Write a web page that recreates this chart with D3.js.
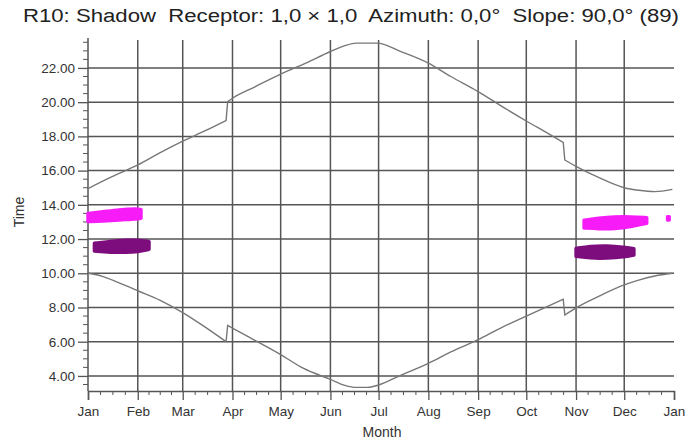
<!DOCTYPE html>
<html>
<head>
<meta charset="utf-8">
<script src="https://cdn.jsdelivr.net/npm/d3@7"></script>
<style>
  body { margin: 0; background: #fff; }
  text { font-family: "Liberation Sans", Arial, sans-serif; }
</style>
</head>
<body>
<script>
(function(){

//chart values
var titleText = "R10: Shadow  Receptor: 1,0 \u00d7 1,0  Azimuth: 0,0\u00b0  Slope: 90,0\u00b0 (89)";
var monthLabels = ["Jan","Feb","Mar","Apr","May","Jun","Jul","Aug","Sep","Oct","Nov","Dec","Jan"];
var yTicks = [4, 6, 8, 10, 12, 14, 16, 18, 20, 22];

//clock changes (the curves jump between these days)
var dstBreaks = ["Mar 29", "Oct 25"];

//sunset (upper curve)
var sunsetDates = ["Jan 1","Jan 15","Feb 1","Feb 15","Mar 1","Mar 15","Mar 28","Mar 29","Apr 1","Apr 15","May 1","May 17","Jun 1","Jun 10","Jun 17","Jun 30","Jul 15","Aug 1","Aug 15","Sep 1","Sep 15","Oct 1","Oct 15","Oct 24","Oct 25","Nov 1","Nov 15","Dec 1","Dec 10","Dec 20","Dec 31"];
var sunsetTimes = [14.95, 15.6, 16.33, 17.05, 17.72, 18.33, 18.93, 20.03, 20.23, 20.9, 21.64, 22.3, 22.96, 23.3, 23.45, 23.45, 22.95, 22.28, 21.5, 20.62, 19.8, 18.9, 18.15, 17.65, 16.62, 16.25, 15.6, 15.0, 14.85, 14.77, 14.9];

//sunrise (lower curve)
var sunriseDates = ["Jan 1","Jan 10","Jan 20","Feb 1","Feb 15","Mar 1","Mar 15","Mar 28","Mar 29","Apr 1","Apr 15","May 1","May 15","Jun 1","Jun 10","Jun 17","Jun 24","Jul 1","Jul 15","Aug 1","Aug 15","Sep 1","Sep 15","Oct 1","Oct 15","Oct 24","Oct 25","Nov 1","Nov 15","Dec 1","Dec 10","Dec 20","Dec 31"];
var sunriseTimes = [10.0, 9.82, 9.45, 8.98, 8.42, 7.7, 6.85, 6.0, 6.95, 6.8, 6.08, 5.25, 4.45, 3.8, 3.45, 3.33, 3.33, 3.47, 4.05, 4.74, 5.4, 6.12, 6.8, 7.5, 8.1, 8.48, 7.56, 7.98, 8.65, 9.32, 9.6, 9.84, 10.0];

//shadow periods, turbine A (magenta)
var shadowADates = ["Jan 1","Jan 10","Jan 20","Feb 1","Feb 3"];
var shadowAStart = [13.02, 13.05, 13.12, 13.17, 13.22];
var shadowAEnd   = [13.5, 13.58, 13.72, 13.77, 13.72];
var shadowA2Dates = ["Nov 6","Nov 15","Nov 25","Dec 5","Dec 15"];
var shadowA2Start = [12.65, 12.6, 12.6, 12.72, 12.92];
var shadowA2End   = [13.1, 13.22, 13.3, 13.3, 13.25];
var shadowA3Dates = ["Dec 28","Dec 29"];
var shadowA3Start = [13.12, 13.12];
var shadowA3End   = [13.3, 13.3];

//shadow periods, turbine B (purple)
var shadowBDates = ["Jan 5","Jan 15","Jan 25","Feb 1","Feb 8"];
var shadowBStart = [11.3, 11.22, 11.22, 11.25, 11.4];
var shadowBEnd   = [11.75, 11.87, 11.93, 11.95, 11.85];
var shadowB2Dates = ["Nov 1","Nov 10","Nov 20","Dec 1","Dec 7"];
var shadowB2Start = [11.0, 10.88, 10.88, 10.95, 11.07];
var shadowB2End   = [11.45, 11.58, 11.62, 11.52, 11.43];

var width = 700,
    height = 443;

var svg = d3.select("body")
    .append("svg")
    .attr("width", width)
    .attr("height", height);

var parse = d3.timeParse("%Y %b %d");
function day(s){ return parse("2011 " + s); }

var x = d3.scaleTime()
    .domain([day("Jan 1"), parse("2012 Jan 1")])
    .range([88, 674]);

var y = d3.scaleLinear()
    .domain([3.12, 23.75])
    .range([391, 38]);

var gridColor = "#555";

//title
svg.append("text")
    .attr("x", 351)
    .attr("y", 22)
    .attr("text-anchor", "middle")
    .attr("font-size", "18px")
    .attr("fill", "#222")
    .attr("textLength", 656)
    .attr("lengthAdjust", "spacingAndGlyphs")
    .style("white-space", "pre")
    .text(titleText);

//horizontal grid
svg.append("g")
    .selectAll("line")
    .data(yTicks)
    .enter()
    .append("line")
    .attr("x1", x.range()[0])
    .attr("x2", x.range()[1])
    .attr("y1", function(d){ return y(d); })
    .attr("y2", function(d){ return y(d); })
    .attr("stroke", gridColor)
    .attr("stroke-width", 1.5);

//vertical grid at month starts (Feb..Dec)
var monthStarts = d3.timeMonth.range(day("Jan 1"), parse("2012 Jan 2"));
svg.append("g")
    .selectAll("line")
    .data(monthStarts.slice(1, 12))
    .enter()
    .append("line")
    .attr("x1", function(d){ return x(d); })
    .attr("x2", function(d){ return x(d); })
    .attr("y1", y.range()[1] + 2)
    .attr("y2", y.range()[0])
    .attr("stroke", gridColor)
    .attr("stroke-width", 1.5);

//x axis with month labels
var xAxis = d3.axisBottom(x)
    .tickValues(monthStarts)
    .tickSize(9)
    .tickFormat(function(d, i){ return monthLabels[i]; });

var gx = svg.append("g")
    .attr("transform", "translate(0," + y.range()[0] + ")")
    .call(xAxis);
gx.select(".domain").attr("stroke", gridColor).attr("stroke-width", 1.5);
gx.selectAll(".tick line").attr("stroke", gridColor).attr("stroke-width", 1.3);
gx.selectAll(".tick text")
    .attr("font-family", "Liberation Sans, Arial, sans-serif")
    .attr("font-size", "13.5px")
    .attr("fill", "#333")
    .attr("dy", "0.95em");

//minor x ticks, quarters of each month
var minorX = [];
for (var i = 0; i < monthStarts.length - 1; i++) {
    var a = +monthStarts[i], b = +monthStarts[i + 1];
    for (var k = 1; k < 4; k++) minorX.push(new Date(a + (b - a) * k / 4));
}
svg.append("g")
    .selectAll("line")
    .data(minorX)
    .enter()
    .append("line")
    .attr("x1", function(d){ return x(d); })
    .attr("x2", function(d){ return x(d); })
    .attr("y1", y.range()[0])
    .attr("y2", y.range()[0] + 4)
    .attr("stroke", gridColor)
    .attr("stroke-width", 1);

//y axis
var yAxis = d3.axisLeft(y)
    .tickValues(yTicks)
    .tickSize(10)
    .tickFormat(d3.format(".2f"));

var gy = svg.append("g")
    .attr("transform", "translate(" + x.range()[0] + ",0)")
    .call(yAxis);
gy.select(".domain").attr("stroke", gridColor).attr("stroke-width", 1.5).attr("d", "M0," + y.range()[1] + "V" + y.range()[0]);
gy.selectAll(".tick line").attr("stroke", gridColor).attr("stroke-width", 1.3);
gy.selectAll(".tick text")
    .attr("font-family", "Liberation Sans, Arial, sans-serif")
    .attr("font-size", "13.5px")
    .attr("fill", "#333")
    .attr("x", -13);

//minor y ticks every half hour
var minorY = d3.range(3.5, 23.75, 0.5).filter(function(v){ return v % 2 !== 0; });
svg.append("g")
    .selectAll("line")
    .data(minorY)
    .enter()
    .append("line")
    .attr("x1", x.range()[0] - 5)
    .attr("x2", x.range()[0])
    .attr("y1", function(d){ return y(d); })
    .attr("y2", function(d){ return y(d); })
    .attr("stroke", gridColor)
    .attr("stroke-width", 1);

//axis titles
svg.append("text")
    .attr("x", 382)
    .attr("y", 437)
    .attr("text-anchor", "middle")
    .attr("font-size", "14px")
    .attr("fill", "#333")
    .text("Month");

svg.append("text")
    .attr("transform", "translate(24,212) rotate(-90)")
    .attr("text-anchor", "middle")
    .attr("font-size", "14px")
    .attr("fill", "#333")
    .text("Time");

//sun curves, smooth between clock changes, straight across them
var line = d3.line()
    .x(function(d){ return x(d.date); })
    .y(function(d){ return y(d.value); })
    .curve(d3.curveMonotoneX);

function toPoints(dates, values){
    return dates.map(function(s, i){ return { date: day(s), value: values[i] }; });
}

function splitPath(points){
    var cuts = dstBreaks.map(day);
    var parts = [[]];
    points.forEach(function(p){
        if (cuts.some(function(c){ return +c === +p.date; })) parts.push([]);
        parts[parts.length - 1].push(p);
    });
    return parts.map(function(seg, j){
        var d = line(seg);
        return j === 0 ? d : "L" + d.slice(1);
    }).join("");
}

svg.append("path")
    .attr("d", splitPath(toPoints(sunsetDates, sunsetTimes)))
    .attr("fill", "none")
    .attr("stroke", "#777")
    .attr("stroke-width", 1.4);

svg.append("path")
    .attr("d", splitPath(toPoints(sunriseDates, sunriseTimes)))
    .attr("fill", "none")
    .attr("stroke", "#777")
    .attr("stroke-width", 1.4);

//shadow blobs
var defs = svg.append("defs");
defs.append("filter")
    .attr("id", "soft")
    .append("feGaussianBlur")
    .attr("stdDeviation", 0.7);

var area = d3.area()
    .x(function(d){ return x(d.date); })
    .y0(function(d){ return y(d.start); })
    .y1(function(d){ return y(d.end); })
    .curve(d3.curveBasis);

function toSpans(dates, starts, ends){
    return dates.map(function(s, i){ return { date: day(s), start: starts[i], end: ends[i] }; });
}

var shadows = [
    { color: "#f71cf7", spans: toSpans(shadowADates, shadowAStart, shadowAEnd) },
    { color: "#f71cf7", spans: toSpans(shadowA2Dates, shadowA2Start, shadowA2End) },
    { color: "#f71cf7", spans: toSpans(shadowA3Dates, shadowA3Start, shadowA3End) },
    { color: "#7d0b7d", spans: toSpans(shadowBDates, shadowBStart, shadowBEnd) },
    { color: "#7d0b7d", spans: toSpans(shadowB2Dates, shadowB2Start, shadowB2End) }
];

svg.append("g")
    .attr("filter", "url(#soft)")
    .selectAll("path")
    .data(shadows)
    .enter()
    .append("path")
    .attr("d", function(d){ return area(d.spans); })
    .attr("fill", function(d){ return d.color; })
    .attr("stroke", function(d){ return d.color; })
    .attr("stroke-width", 3.5)
    .attr("stroke-linejoin", "round");

})();
</script>
</body>
</html>
